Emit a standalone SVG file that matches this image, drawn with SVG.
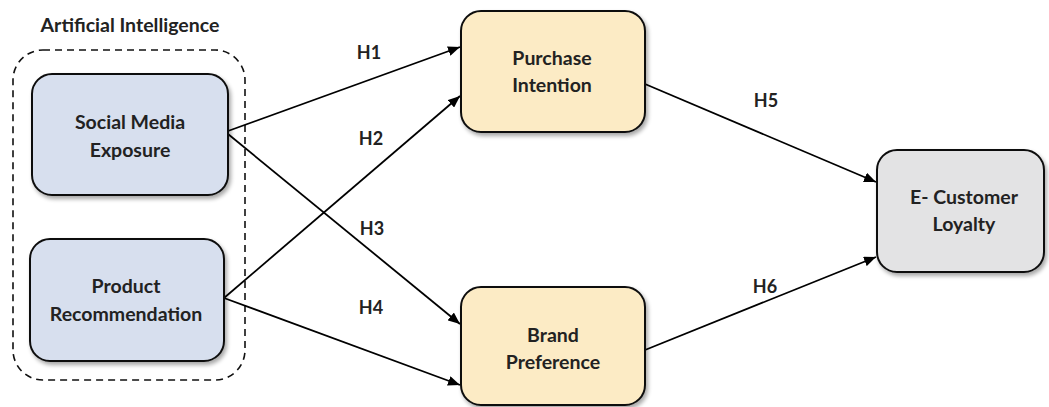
<svg xmlns="http://www.w3.org/2000/svg" width="1049" height="407" viewBox="0 0 1049 407">
<defs>
<filter id="sh" x="-10%" y="-10%" width="125%" height="130%">
<feGaussianBlur in="SourceAlpha" stdDeviation="2"/>
<feOffset dx="2" dy="3" result="b"/>
<feComponentTransfer><feFuncA type="linear" slope="0.35"/></feComponentTransfer>
<feMerge><feMergeNode/><feMergeNode in="SourceGraphic"/></feMerge>
</filter>
<marker id="ah" viewBox="0 0 12 10" refX="12" refY="5" markerWidth="12" markerHeight="10" markerUnits="userSpaceOnUse" orient="auto">
<path d="M0,0 L12,5 L0,10 z" fill="#000"/>
</marker>
</defs>
<style>
text{font-family:Lato,"Open Sans","Liberation Sans",sans-serif;font-weight:bold;font-size:19.5px;fill:#222;text-anchor:middle}
.box{stroke:#111;stroke-width:2;filter:url(#sh)}
.blue{fill:#d7dfee}
.yel{fill:#fcebc5}
.gry{fill:#e3e3e4}
.c{stroke:#000;stroke-width:1.8;fill:none;marker-end:url(#ah)}
.lab{font-size:18px}
</style>
<rect x="13" y="50" width="232" height="330" rx="30" fill="none" stroke="#111" stroke-width="1.6" stroke-dasharray="7,5"/>
<text x="130" y="32">Artificial Intelligence</text>
<g id="connectors">
<line class="c" x1="228" y1="131" x2="460" y2="47"/>
<line class="c" x1="228" y1="134" x2="460" y2="324"/>
<line class="c" x1="224" y1="298" x2="460" y2="96"/>
<line class="c" x1="224" y1="298" x2="460" y2="385"/>
<line class="c" x1="645" y1="84" x2="876" y2="182"/>
<line class="c" x1="645" y1="350" x2="876" y2="257"/>
<text class="lab" x="369" y="59">H1</text>
<text class="lab" x="371" y="145">H2</text>
<text class="lab" x="372" y="235">H3</text>
<text class="lab" x="371" y="314">H4</text>
<text class="lab" x="766" y="107">H5</text>
<text class="lab" x="765" y="293">H6</text>
</g>
<g id="sme">
<rect class="box blue" x="32" y="74" width="196" height="121" rx="20"/>
<text x="130" y="129">Social Media</text>
<text x="130" y="157">Exposure</text>
</g>
<g id="pr">
<rect class="box blue" x="30" y="239" width="194" height="122" rx="20"/>
<text x="126" y="293">Product</text>
<text x="126" y="321">Recommendation</text>
</g>
<g id="pi">
<rect class="box yel" x="461" y="11" width="184" height="121" rx="20"/>
<text x="552" y="65">Purchase</text>
<text x="552" y="92">Intention</text>
</g>
<g id="bp">
<rect class="box yel" x="461" y="287" width="184" height="118" rx="20"/>
<text x="553" y="342">Brand</text>
<text x="553" y="369">Preference</text>
</g>
<g id="ecl">
<rect class="box gry" x="877" y="150" width="167" height="122" rx="20"/>
<text x="964" y="204">E- Customer</text>
<text x="964" y="231">Loyalty</text>
</g>
</svg>
